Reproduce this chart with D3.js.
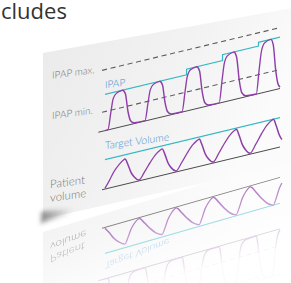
<!DOCTYPE html>
<html>
<head>
<meta charset="utf-8">
<script src="https://cdn.jsdelivr.net/npm/d3@7"></script>
<style>
  html, body { margin: 0; padding: 0; background: #fff; overflow: hidden; }
  svg { display: block; }
</style>
</head>
<body>
<svg id="chart" width="291" height="283"></svg>
<script>
// pressure settings (cmH2O)
const epap = 5;
const ipapMin = 10;
const ipapMax = 21;

// IPAP target: time the level changes, new level
const ipapSteps = [[0.8, 14.5], [22.8, 16], [32.5, 17.5], [42.2, 18.5], [48, 18.5]];

// delivered pressure trace [time, cmH2O]
const pressureTrace = [
  [0.8, 5], [1.6, 5.1], [2.4, 9.5], [3.0, 12.8], [3.9, 14.1], [5.5, 14.5], [6.3, 13.4], [7.0, 8.6], [7.7, 6.0], [8.8, 5.2],
  [11.6, 5.1], [12.4, 9.5], [13.0, 12.8], [13.9, 14.1], [15.5, 14.5], [16.3, 13.4], [17.0, 8.6], [17.7, 6.0], [18.8, 5.2],
  [21.6, 5.1], [22.4, 10.2], [23.0, 14.0], [23.9, 15.6], [25.5, 16], [26.3, 14.7], [27.0, 9.2], [27.7, 6.1], [28.8, 5.2],
  [31.6, 5.1], [32.4, 11.0], [33.0, 15.2], [33.9, 17.0], [35.5, 17.5], [36.3, 16.0], [37.0, 9.8], [37.7, 6.3], [38.8, 5.3],
  [41.6, 5.1], [42.4, 11.5], [43.0, 16.0], [43.9, 18.0], [45.5, 18.5], [46.2, 16.8], [46.8, 10.5], [47.4, 6.6], [48.0, 5.4]
];

// volume (mL)
const targetVolume = 500;
const volumeTrace = [
  [0.8, 15], [2.0, 129], [3.2, 258], [4.7, 366], [5.7, 417], [6.2, 430], [7.0, 322], [7.8, 181], [8.7, 86], [10, 17],
  [11.5, 135], [13, 270], [14.5, 383], [15.7, 437], [16.2, 450], [17.0, 338], [17.8, 189], [18.7, 90], [20, 18],
  [21.5, 140], [23, 279], [24.5, 395], [25.7, 451], [26.2, 465], [27.0, 349], [27.8, 195], [28.7, 93], [30, 19],
  [31.5, 144], [33, 288], [34.5, 408], [35.7, 466], [36.2, 480], [37.0, 360], [37.8, 202], [38.7, 96], [40, 19],
  [41.5, 150], [43, 300], [44.5, 425], [45.7, 485], [46.2, 500], [47.0, 375], [47.8, 210], [48.5, 120]
];

const timeSpan = [0, 48];

const svg = d3.select('#chart');
const defs = svg.append('defs');

// card shading
const cardGrad = defs.append('linearGradient').attr('id', 'cardFill')
  .attr('x1', 0).attr('y1', 0).attr('x2', 1).attr('y2', 0.4);
cardGrad.append('stop').attr('offset', 0).attr('stop-color', '#ebebeb');
cardGrad.append('stop').attr('offset', 0.6).attr('stop-color', '#f3f3f3');
cardGrad.append('stop').attr('offset', 1).attr('stop-color', '#fbfbfb');

const shadowGrad = defs.append('linearGradient').attr('id', 'shadowFill');
shadowGrad.append('stop').attr('offset', 0).attr('stop-color', '#3a3a3a').attr('stop-opacity', 0.55);
shadowGrad.append('stop').attr('offset', 1).attr('stop-color', '#3a3a3a').attr('stop-opacity', 0);

defs.append('filter').attr('id', 'blur').attr('x', -0.2).attr('y', -1).attr('width', 1.4).attr('height', 3)
  .append('feGaussianBlur').attr('stdDeviation', 2.2);

// reflection fades away from the card edge
const fadeGrad = defs.append('linearGradient').attr('id', 'fadeGrad')
  .attr('gradientUnits', 'userSpaceOnUse')
  .attr('x1', 150).attr('y1', 208).attr('x2', 168).attr('y2', 278);
fadeGrad.append('stop').attr('offset', 0).attr('stop-color', '#fff').attr('stop-opacity', 0.75);
fadeGrad.append('stop').attr('offset', 0.45).attr('stop-color', '#fff').attr('stop-opacity', 0.45);
fadeGrad.append('stop').attr('offset', 0.8).attr('stop-color', '#fff').attr('stop-opacity', 0.2);
fadeGrad.append('stop').attr('offset', 1).attr('stop-color', '#fff').attr('stop-opacity', 0.03);
defs.append('mask').attr('id', 'fade')
  .append('rect').attr('width', 291).attr('height', 283).attr('fill', 'url(#fadeGrad)');

// scales in the card's own (flat) coordinates
const x = d3.scaleLinear().domain(timeSpan).range([59, 237]);
const yP = d3.scaleLinear().domain([epap, ipapMax]).range([92.5, 31.5]);
const yV = d3.scaleLinear().domain([0, targetVolume]).range([151, 121.5]);

const purple = '#8e3ea8';
const cyan = '#35b8c4';
const blue = '#4a90cc';
const grey = '#777';

function drawPanel(g, isReflection) {
  g.append('path')
    .attr('d', 'M0,0 L252,15 L252,170 L0,166 Z')
    .attr('fill', 'url(#cardFill)');

  if (!isReflection) {
    g.append('path')
      .attr('d', 'M-2,158 L30,163 L30,167 L-2,170 Z')
      .attr('fill', 'url(#shadowFill)')
      .attr('filter', 'url(#blur)');
  }

  const lineP = d3.line().x(d => x(d[0])).y(d => yP(d[1])).curve(d3.curveMonotoneX);
  const lineV = d3.line().x(d => x(d[0])).y(d => yV(d[1])).curve(d3.curveMonotoneX);
  const stepP = d3.line().x(d => x(d[0])).y(d => yP(d[1])).curve(d3.curveStepAfter);

  // IPAP limits
  [ipapMax, ipapMin].forEach(p => {
    g.append('line')
      .attr('x1', x(timeSpan[0])).attr('x2', x(timeSpan[1]))
      .attr('y1', yP(p)).attr('y2', yP(p))
      .attr('stroke', '#5a5a5a').attr('stroke-width', 1.1)
      .attr('stroke-dasharray', '5,3.5');
  });

  // baselines
  g.append('line')
    .attr('x1', x(-1)).attr('x2', x(timeSpan[1]))
    .attr('y1', yP(epap)).attr('y2', yP(epap))
    .attr('stroke', '#4a4a4a').attr('stroke-width', 1);
  g.append('line')
    .attr('x1', x(timeSpan[0])).attr('x2', x(timeSpan[1]))
    .attr('y1', yV(0)).attr('y2', yV(0))
    .attr('stroke', '#4a4a4a').attr('stroke-width', 1);

  // IPAP target steps
  g.append('path').attr('d', stepP(ipapSteps))
    .attr('fill', 'none').attr('stroke', cyan).attr('stroke-width', 1.2);

  // target volume
  g.append('line')
    .attr('x1', x(0.8)).attr('x2', x(timeSpan[1]))
    .attr('y1', yV(targetVolume)).attr('y2', yV(targetVolume))
    .attr('stroke', cyan).attr('stroke-width', 1.2);

  // traces
  g.append('path').attr('d', lineP(pressureTrace))
    .attr('fill', 'none').attr('stroke', purple).attr('stroke-width', 1.4);
  g.append('path').attr('d', lineV(volumeTrace))
    .attr('fill', 'none').attr('stroke', purple).attr('stroke-width', 1.4);

  // labels, text sits a little flatter than the lines
  const label = (txt, u, v, size, color) => {
    g.append('text')
      .attr('transform', `translate(${u},${v}) skewY(6)`)
      .attr('font-family', 'Lato, "Open Sans", sans-serif')
      .attr('font-weight', 300)
      .attr('font-size', size)
      .attr('fill', color)
      .text(txt);
  };
  // the reflection only shows the lower labels before it fades out
  if (!isReflection) {
    label('IPAP max.', 9, yP(ipapMax) - 3.5, 10, grey);
    label('IPAP min.', 9, yP(ipapMin) - 5, 10, grey);
    label('IPAP', x(0.8), yP(ipapSteps[0][1]) - 6, 10, blue);
  }
  label('Target Volume', x(0.8), yV(targetVolume) - 10.5, 10.5, blue);
  label('Patient', 7, yV(0) - 14, 11.5, grey);
  label('volume', 7, yV(0) - 0.5, 11.5, grey);
}

// reflection first, underneath
const reflection = svg.append('g').attr('mask', 'url(#fade)')
  .append('g').attr('transform', 'matrix(1,-0.286,0,-0.88,43,378)');
drawPanel(reflection, true);

const card = svg.append('g').attr('transform', 'matrix(1,-0.24,0,1,43,53)');
drawPanel(card, false);

// heading cut by the frame
svg.append('text')
  .attr('x', 1).attr('y', 19)
  .attr('font-family', '"Open Sans", Lato, sans-serif')
  .attr('font-size', 22)
  .attr('fill', '#333')
  .text('cludes');
</script>
</body>
</html>
